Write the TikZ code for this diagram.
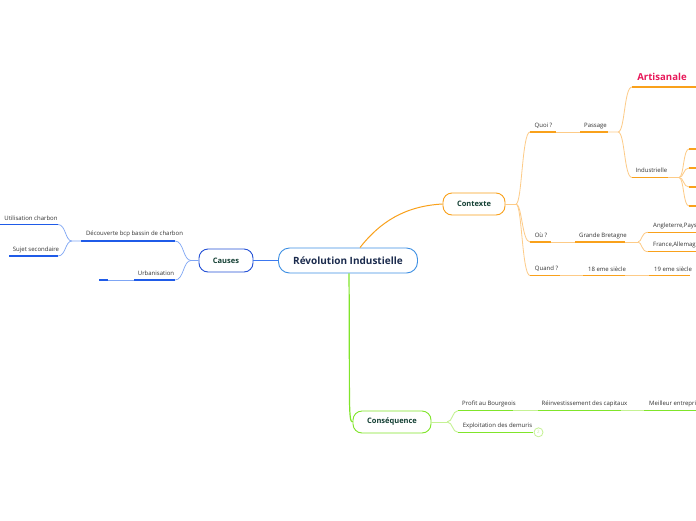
\documentclass[tikz,border=0pt]{standalone}
\usepackage{fontspec}
\setmainfont{Open Sans}
\definecolor{blueD}{HTML}{1F5BE8}
\definecolor{blueL}{HTML}{7FA6F4}
\definecolor{blueM}{HTML}{3C78F0}
\definecolor{causesB}{HTML}{2350D6}
\definecolor{centB}{HTML}{3D8FE3}
\definecolor{centT}{HTML}{1B2B4D}
\definecolor{titleT}{HTML}{133F33}
\definecolor{orangeD}{HTML}{F9A11B}
\definecolor{orangeL}{HTML}{FDCB87}
\definecolor{greenD}{HTML}{80E52A}
\definecolor{greenL}{HTML}{C5F294}
\definecolor{pinkT}{HTML}{E8195A}
\definecolor{lblT}{HTML}{333333}
\begin{document}
\begin{tikzpicture}[x=1pt,y=-1pt,
  topic/.style={draw, rounded corners=9pt, fill=white, line width=0.9pt, inner sep=0pt,
    font=\bfseries\fontsize{7.5}{9}\selectfont, text=titleT},
  lbl/.style={font=\fontsize{6}{7}\selectfont, text=lblT, inner sep=0pt},
  bthick/.style={draw=blueD, line width=1.5pt},
  bthin/.style={draw=blueL, line width=0.7pt},
  othick/.style={draw=orangeD, line width=1.5pt},
  othin/.style={draw=orangeL, line width=0.8pt},
  gthick/.style={draw=greenD, line width=1.5pt},
  gthin/.style={draw=greenL, line width=0.9pt}
]
\useasboundingbox (0,0) rectangle (696,520);
\clip (0,0) rectangle (696,520);
\fill[white] (0,0) rectangle (696,520);

% main topics
\node[topic, draw=centB, text=centT, minimum width=139pt, minimum height=25pt, rounded corners=11pt,
  font=\bfseries\fontsize{10}{12}\selectfont] (cent) at (348,260.5) {Révolution Industielle};
\node[topic, draw=causesB, minimum width=54pt, minimum height=23pt] (causes) at (226,260.5) {Causes};
\node[topic, draw=orangeD, minimum width=62pt, minimum height=22pt] (ctx) at (474,204) {Contexte};
\node[topic, draw=greenD, minimum width=78pt, minimum height=22pt] (cons) at (392,422) {Conséquence};

% main connectors
\draw[draw=blueM, line width=0.9pt] (cent.west) -- (causes.east);
\draw[draw=orangeD, line width=1pt] ([xshift=12pt]cent.north) .. controls (380,222) and (405,206) .. (ctx.west);
\draw[draw=greenD, line width=1.2pt] ([xshift=1pt]cent.south) .. controls (350,400) and (348,422) .. (cons.west);

% ---------- Causes ----------
\coordinate (dec-l) at (81,241); \coordinate (dec-r) at (175,241);
\coordinate (urb-l) at (134,280); \coordinate (urb-r) at (175,280);
\coordinate (urb-e) at (108,280); \coordinate (urb-f) at (99,280);
\coordinate (util-l) at (0,224.5); \coordinate (util-r) at (58,224.5);
\coordinate (suj-l) at (9,256); \coordinate (suj-r) at (58,256);
\coordinate (jc) at (191,260.5);
\coordinate (jd) at (72,241);

\draw[bthin] (causes.west) -- (jc) .. controls (183,260.5) and (184,241) .. (dec-r);
\draw[bthin] (jc) .. controls (183,260.5) and (184,280) .. (urb-r);
\draw[bthick] (dec-l) -- (dec-r);
\draw[bthick] (urb-l) -- (urb-r);
\draw[bthin] (urb-e) -- (urb-l);
\draw[bthick] (urb-f) -- (urb-e);
\draw[bthin] (dec-l) -- (jd) .. controls (65,241) and (66,224.5) .. (util-r);
\draw[bthin] (jd) .. controls (65,241) and (66,256) .. (suj-r);
\draw[bthick] (util-l) -- (util-r);
\draw[bthick] (suj-l) -- (suj-r);

\node[lbl] (dec) at (134.5,234.3) {Découverte bcp bassin de charbon};
\node[lbl] (urb) at (156,273.3) {Urbanisation};
\node[lbl] (util) at (31,218.5) {Utilisation charbon};
\node[lbl] (suj) at (36,250) {Sujet secondaire};

% ---------- Contexte ----------
\coordinate (jx) at (516,204);
\coordinate (quoi-l) at (530,132); \coordinate (quoi-r) at (556,132);
\coordinate (pas-l) at (580,132); \coordinate (pas-r) at (608,132);
\coordinate (jp) at (618,132);
\coordinate (art-l) at (632,87); \coordinate (art-r) at (696,87);
\coordinate (ind-l) at (632,177.5); \coordinate (ind-r) at (668,177.5);
\coordinate (ji) at (679,177.5);
\coordinate (i1) at (689,149); \coordinate (i1r) at (696,149);
\coordinate (i2) at (689,168); \coordinate (i2r) at (696,168);
\coordinate (i3) at (689,187); \coordinate (i3r) at (696,187);
\coordinate (i4) at (689,206); \coordinate (i4r) at (696,206);
\coordinate (ou-l) at (530,242); \coordinate (ou-r) at (551,242);
\coordinate (gb-l) at (575,242); \coordinate (gb-r) at (625,242);
\coordinate (jg) at (638,242);
\coordinate (ang-l) at (648,232.3); \coordinate (ang-r) at (696,232.3);
\coordinate (fra-l) at (648,251.7); \coordinate (fra-r) at (696,251.7);
\coordinate (qd-l) at (530,275.5); \coordinate (qd-r) at (560,275.5);
\coordinate (s18-l) at (583,275.5); \coordinate (s18-r) at (625,275.5);
\coordinate (s19-l) at (649,275.5); \coordinate (s19-r) at (690,275.5);

\draw[othin] (ctx.east) -- (jx);
\draw[othin] (jx) .. controls (522,204) and (522,132) .. (quoi-l);
\draw[othin] (jx) .. controls (522,204) and (522,242) .. (ou-l);
\draw[othin] (jx) .. controls (522,204) and (522,275.5) .. (qd-l);

\draw[othick] (quoi-l) -- (quoi-r);
\draw[othin] (quoi-r) -- (pas-l);
\draw[othick] (pas-l) -- (pas-r);
\draw[othin] (pas-r) -- (jp) .. controls (625,132) and (624,87) .. (art-l);
\draw[othin] (jp) .. controls (625,132) and (624,177.5) .. (ind-l);
\draw[othick, line width=1.8pt] (art-l) -- (art-r);
\draw[othick] (ind-l) -- (ind-r);
\draw[othin] (ind-r) -- (ji);
\foreach \t in {i1,i2,i3,i4}{
  \draw[othin] (ji) .. controls (684,177.5) and (683,0|-\t) .. (\t);
}
\draw[othick] (i1) -- (i1r);
\draw[othick] (i2) -- (i2r);
\draw[othick] (i3) -- (i3r);
\draw[othick] (i4) -- (i4r);

\draw[othick] (ou-l) -- (ou-r);
\draw[othin] (ou-r) -- (gb-l);
\draw[othick] (gb-l) -- (gb-r);
\draw[othin] (gb-r) -- (jg);
\draw[othin] (jg) .. controls (642,242) and (641,232.3) .. (ang-l);
\draw[othin] (jg) .. controls (642,242) and (641,251.7) .. (fra-l);
\draw[othick] (ang-l) -- (ang-r);
\draw[othick] (fra-l) -- (fra-r);

\draw[othick] (qd-l) -- (qd-r);
\draw[othin] (qd-r) -- (s18-l);
\draw[othick] (s18-l) -- (s18-r);
\draw[othin] (s18-r) -- (s19-l);
\draw[othick] (s19-l) -- (s19-r);

\node[lbl] (quoi) at (543.5,125.7) {Quoi ?};
\node[lbl] (pas) at (595.5,125.7) {Passage};
\node[font=\bfseries\fontsize{9.6}{11}\selectfont, text=pinkT, inner sep=0pt] (art) at (662,77) {Artisanale};
\node[lbl] (ind) at (651.5,170.3) {Industrielle};
\node[lbl] (ou) at (541,235.5) {Où ?};
\node[lbl] (gb) at (603,235.5) {Grande Bretagne};
\node[lbl, anchor=west] (ang) at (653,225.5) {Angleterre,Pays};
\node[lbl, anchor=west] (fra) at (653,244.8) {France,Allemag};
\node[lbl] (qd) at (546.5,269) {Quand ?};
\node[lbl] (s18) at (607,269) {18 eme siècle};
\node[lbl] (s19) at (673,269) {19 eme siècle};

% ---------- Conséquence ----------
\coordinate (jq) at (447,422);
\coordinate (pro-l) at (458,410.7); \coordinate (pro-r) at (513,410.7);
\coordinate (rei-l) at (538,410.7); \coordinate (rei-r) at (621,410.7);
\coordinate (mei-l) at (644,410.7); \coordinate (mei-r) at (696,410.7);
\coordinate (exp-l) at (458,432.3); \coordinate (exp-r) at (533,432.3);

\draw[gthin] (cons.east) -- (jq);
\draw[gthin] (jq) .. controls (453,422) and (452,410.7) .. (pro-l);
\draw[gthin] (jq) .. controls (453,422) and (452,432.3) .. (exp-l);
\draw[gthick] (pro-l) -- (pro-r);
\draw[gthin] (pro-r) -- (rei-l);
\draw[gthick] (rei-l) -- (rei-r);
\draw[gthin] (rei-r) -- (mei-l);
\draw[gthick] (mei-l) -- (mei-r);
\draw[gthick] (exp-l) -- (exp-r);
\node[circle, draw=greenL, line width=0.8pt, fill=white, minimum size=9pt, inner sep=0pt,
  font=\fontsize{4.5}{5}\selectfont, text=greenL] (cnt) at (538.5,432.3) {2};

\node[lbl] (pro) at (489,404.3) {Profit au Bourgeois};
\node[lbl] (rei) at (584.5,404.3) {Réinvestissement des capitaux};
\node[lbl, anchor=west] (mei) at (649,404.3) {Meilleur entrepri};
\node[lbl] (exp) at (497.5,425.7) {Exploitation des demuris};
\end{tikzpicture}
\end{document}
